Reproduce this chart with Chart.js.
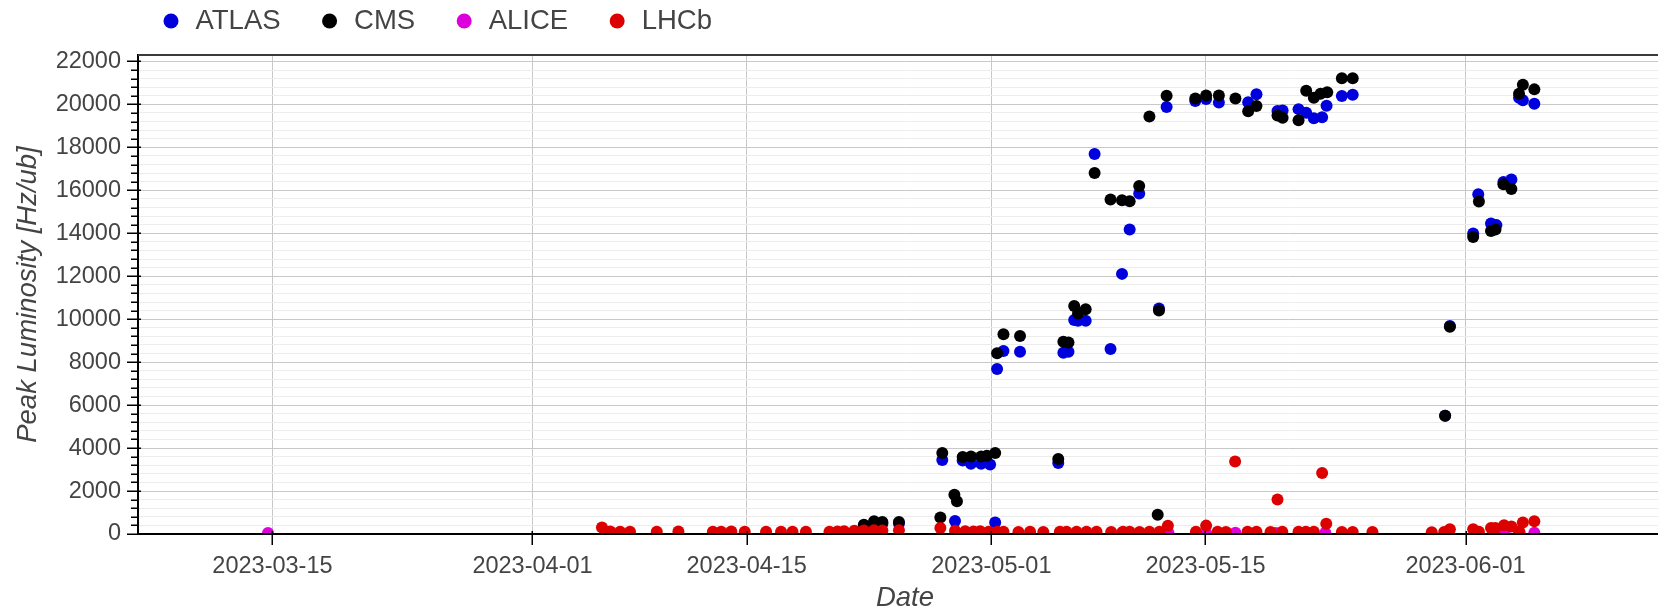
<!DOCTYPE html>
<html>
<head>
<meta charset="utf-8">
<title>Peak Luminosity</title>
<script src="https://cdn.jsdelivr.net/npm/chart.js@4/dist/chart.umd.min.js"></script>
<style>
  html, body { margin: 0; padding: 0; background: #fff; overflow: hidden; }
  #wrap { width: 1678px; height: 609px; }
</style>
</head>
<body>
<div id="wrap"><canvas id="lumiChart"></canvas></div>
<script>
// Peak luminosity per fill, by experiment (times in UTC)
const atlasTimes = [
    '2023-04-22 16:00', '2023-04-23 08:00', '2023-04-23 21:00', '2023-04-24 23:00',
    '2023-04-27 19:00', '2023-04-28 15:00', '2023-04-29 03:00', '2023-04-29 16:00',
    '2023-04-30 08:00', '2023-04-30 22:00', '2023-05-01 06:00', '2023-05-01 09:00',
    '2023-05-01 19:00', '2023-05-02 21:00', '2023-05-05 09:00', '2023-05-05 17:00',
    '2023-05-06 01:00', '2023-05-06 10:00', '2023-05-06 16:00', '2023-05-07 04:00',
    '2023-05-07 18:00', '2023-05-08 19:00', '2023-05-09 13:00', '2023-05-10 01:00',
    '2023-05-10 16:00', '2023-05-11 23:00', '2023-05-12 11:00', '2023-05-14 08:00',
    '2023-05-15 01:00', '2023-05-15 21:00', '2023-05-17 19:00', '2023-05-18 08:00',
    '2023-05-19 17:00', '2023-05-20 01:00', '2023-05-21 02:00', '2023-05-21 14:00',
    '2023-05-22 02:00', '2023-05-22 15:00', '2023-05-22 22:00', '2023-05-23 22:00',
    '2023-05-24 15:00', '2023-05-30 16:00', '2023-05-30 23:30', '2023-06-01 12:00',
    '2023-06-01 20:00', '2023-06-02 16:00', '2023-06-03 00:30', '2023-06-03 11:30',
    '2023-06-04 00:00', '2023-06-04 12:00', '2023-06-04 18:00', '2023-06-05 12:00',
];
const atlasPeak = [
    380, 500, 480, 490,
    3450, 600, 3420, 3270,
    3270, 3240, 540, 7680,
    8520, 8490, 3300, 8440,
    8490, 9960, 9930, 9930,
    17690, 8610, 12110, 14180,
    15850, 10500, 19880, 20160,
    20250, 20090, 20100, 20470,
    19690, 19720, 19780, 19610,
    19350, 19400, 19940, 20390,
    20450, 5500, 9680, 13990,
    15820, 14450, 14380, 16390,
    16500, 20310, 20190, 20030,
];

const cmsTimes = [
    '2023-04-22 16:00', '2023-04-23 08:00', '2023-04-23 21:00', '2023-04-24 23:00',
    '2023-04-27 16:00', '2023-04-27 19:00', '2023-04-28 14:00', '2023-04-28 18:00',
    '2023-04-29 03:00', '2023-04-29 16:00', '2023-04-30 08:00', '2023-04-30 17:00',
    '2023-05-01 06:00', '2023-05-01 09:00', '2023-05-01 19:00', '2023-05-02 21:00',
    '2023-05-05 09:00', '2023-05-05 17:00', '2023-05-06 01:00', '2023-05-06 10:00',
    '2023-05-06 16:00', '2023-05-07 04:00', '2023-05-07 18:00', '2023-05-08 19:00',
    '2023-05-09 13:00', '2023-05-10 01:00', '2023-05-10 16:00', '2023-05-11 08:00',
    '2023-05-11 21:00', '2023-05-11 23:00', '2023-05-12 11:00', '2023-05-14 08:00',
    '2023-05-15 01:00', '2023-05-15 21:00', '2023-05-16 23:00', '2023-05-17 19:00',
    '2023-05-18 08:00', '2023-05-19 17:00', '2023-05-20 01:00', '2023-05-21 02:00',
    '2023-05-21 14:00', '2023-05-22 02:00', '2023-05-22 12:30', '2023-05-22 23:00',
    '2023-05-23 22:00', '2023-05-24 15:00', '2023-05-30 16:00', '2023-05-30 23:30',
    '2023-06-01 12:00', '2023-06-01 21:00', '2023-06-02 16:00', '2023-06-02 23:00',
    '2023-06-03 11:30', '2023-06-04 00:00', '2023-06-04 12:00', '2023-06-04 18:00',
    '2023-06-05 12:00',
];
const cmsPeak = [
    430, 590, 560, 560,
    770, 3770, 1830, 1530,
    3580, 3610, 3610, 3640,
    3770, 8410, 9300, 9220,
    3490, 8950, 8910, 10610,
    10270, 10460, 16810, 15570,
    15540, 15490, 16200, 19440,
    900, 10410, 20400, 20280,
    20410, 20420, 20280, 19680,
    19930, 19480, 19380, 19260,
    20640, 20310, 20500, 20570,
    21220, 21220, 5500, 9650,
    13830, 15480, 14110, 14180,
    16280, 16060, 20500, 20920,
    20700,
];

const aliceTimes = [
    '2023-03-14 17:00', '2023-05-09 13:00', '2023-05-12 14:00', '2023-05-15 01:00',
    '2023-05-16 09:00', '2023-05-16 23:00', '2023-05-19 14:00', '2023-05-22 20:00',
    '2023-06-03 13:00', '2023-06-04 13:00', '2023-06-05 12:00',
];
const alicePeak = [50, 60, 50, 40, 60, 60, 50, 60, 50, 60, 60];

const lhcbTimes = [
    '2023-04-05 13:00', '2023-04-06 02:00', '2023-04-06 17:30', '2023-04-07 09:00',
    '2023-04-09 03:00', '2023-04-10 13:00', '2023-04-12 19:00', '2023-04-13 08:00',
    '2023-04-14 00:00', '2023-04-14 21:00', '2023-04-16 06:30', '2023-04-17 06:00',
    '2023-04-18 00:00', '2023-04-18 21:00', '2023-04-20 10:00', '2023-04-20 22:30',
    '2023-04-21 09:00', '2023-04-22 01:00', '2023-04-22 16:00', '2023-04-23 08:00',
    '2023-04-23 21:00', '2023-04-24 23:00', '2023-04-27 16:00', '2023-04-28 15:00',
    '2023-04-29 07:00', '2023-04-29 20:00', '2023-04-30 06:30', '2023-04-30 19:40',
    '2023-05-01 09:00', '2023-05-01 19:00', '2023-05-02 18:30', '2023-05-03 12:45',
    '2023-05-04 09:30', '2023-05-05 11:30', '2023-05-05 22:00', '2023-05-06 13:40',
    '2023-05-07 05:15', '2023-05-07 21:00', '2023-05-08 20:00', '2023-05-09 14:40',
    '2023-05-10 01:00', '2023-05-10 16:30', '2023-05-11 08:00', '2023-05-11 23:45',
    '2023-05-12 13:00', '2023-05-14 09:00', '2023-05-15 01:00', '2023-05-15 19:00',
    '2023-05-16 08:00', '2023-05-16 22:30', '2023-05-17 18:00', '2023-05-18 08:00',
    '2023-05-19 06:00', '2023-05-19 17:00', '2023-05-20 00:30', '2023-05-21 02:00',
    '2023-05-21 13:30', '2023-05-22 02:00', '2023-05-22 15:00', '2023-05-22 21:30',
    '2023-05-23 22:00', '2023-05-24 15:00', '2023-05-25 22:00', '2023-05-29 19:00',
    '2023-05-30 14:30', '2023-05-30 23:30', '2023-06-01 12:00', '2023-06-01 21:00',
    '2023-06-02 16:00', '2023-06-02 23:00', '2023-06-03 12:30', '2023-06-04 00:00',
    '2023-06-04 12:00', '2023-06-04 18:00', '2023-06-05 12:00',
];
const lhcbPeak = [
    300, 120, 110, 100,
    110, 120, 100, 110,
    120, 100, 110, 100,
    110, 100, 110, 120,
    130, 150, 160, 170,
    160, 180, 280, 150,
    130, 120, 130, 110,
    110, 100, 90, 100,
    90, 100, 100, 110,
    100, 100, 90, 100,
    100, 90, 100, 100,
    380, 100, 390, 100,
    90, 3370, 100, 100,
    90, 1610, 100, 100,
    100, 100, 2840, 480,
    90, 90, 90, 80,
    90, 220, 220, 100,
    280, 280, 410, 350,
    130, 540, 590,
];

const xTickDates = ['2023-03-15', '2023-04-01', '2023-04-15', '2023-05-01', '2023-05-15', '2023-06-01'];
const yMajorTicks = [0, 2000, 4000, 6000, 8000, 10000, 12000, 14000, 16000, 18000, 20000, 22000];

const FONT = "'Liberation Sans', Arial, Helvetica, sans-serif";
const TEXT_COLOR = '#444444';

function toMs(s) {
    return Date.parse(s.replace(' ', 'T') + ':00Z');
}

function toPoints(times, values) {
    return times.map((t, i) => ({ x: toMs(t), y: values[i] }));
}

// major ticks every 2000, four minor ticks in between
const yMinorStep = (yMajorTicks[1] - yMajorTicks[0]) / 5;
const yAllTicks = [];
for (let v = yMajorTicks[0]; v <= yMajorTicks[yMajorTicks.length - 1]; v += yMinorStep) {
    yAllTicks.push(v);
}
const isMajor = v => yMajorTicks.includes(v);

// legend drawn across the top, left aligned
const topLegend = {
    id: 'topLegend',
    afterDraw(chart, args, opts) {
        const { ctx } = chart;
        ctx.save();
        ctx.font = `${opts.fontSize}px ${FONT}`;
        ctx.textBaseline = 'middle';
        let x = opts.x;
        chart.data.datasets.forEach(ds => {
            ctx.fillStyle = ds.backgroundColor;
            ctx.beginPath();
            ctx.arc(x, opts.y, opts.radius, 0, Math.PI * 2);
            ctx.fill();
            ctx.fillStyle = TEXT_COLOR;
            ctx.fillText(ds.label, x + opts.gap, opts.y);
            x += opts.gap + ctx.measureText(ds.label).width + opts.spacing;
        });
        ctx.restore();
    },
};

// outward tick marks on both axes plus the frame's top edge
const axisTicks = {
    id: 'axisTicks',
    afterDraw(chart) {
        const { ctx, chartArea, scales } = chart;
        const { x, y } = scales;
        ctx.save();
        ctx.strokeStyle = '#000';
        ctx.lineWidth = 1.5;
        ctx.beginPath();
        y.ticks.forEach(t => {
            const py = Math.round(y.getPixelForValue(t.value)) + 0.25;
            const major = isMajor(t.value);
            ctx.moveTo(chartArea.left - (major ? 11 : 7), py);
            ctx.lineTo(chartArea.left + (major ? 3 : 0), py);
        });
        x.ticks.forEach(t => {
            const px = Math.round(x.getPixelForValue(t.value)) + 0.25;
            ctx.moveTo(px, chartArea.bottom - 3);
            ctx.lineTo(px, chartArea.bottom + 11);
        });
        ctx.stroke();

        ctx.strokeStyle = '#3a3a3a';
        ctx.lineWidth = 2;
        ctx.beginPath();
        ctx.moveTo(chartArea.left, chartArea.top);
        ctx.lineTo(chartArea.right, chartArea.top);
        ctx.stroke();
        ctx.restore();
    },
};

Chart.defaults.font.family = FONT;
Chart.defaults.color = TEXT_COLOR;

const series = [
    { label: 'ATLAS', color: '#0000dd', points: toPoints(atlasTimes, atlasPeak), order: 3 },
    { label: 'CMS', color: '#000000', points: toPoints(cmsTimes, cmsPeak), order: 2 },
    { label: 'ALICE', color: '#dd00dd', points: toPoints(aliceTimes, alicePeak), order: 1 },
    { label: 'LHCb', color: '#dd0000', points: toPoints(lhcbTimes, lhcbPeak), order: 0 },
];

new Chart(document.getElementById('lumiChart'), {
    type: 'scatter',
    data: {
        datasets: series.map(s => ({
            label: s.label,
            data: s.points,
            order: s.order,
            backgroundColor: s.color,
            borderColor: s.color,
            borderWidth: 0,
            pointRadius: 6,
            pointHoverRadius: 6,
            clip: 0,
        })),
    },
    plugins: [topLegend, axisTicks],
    options: {
        responsive: true,
        maintainAspectRatio: false,
        animation: false,
        events: [],
        layout: { padding: { top: 55, right: 0, bottom: 0, left: 0 } },
        plugins: {
            legend: { display: false },
            tooltip: { enabled: false },
            topLegend: { x: 171, y: 21, radius: 7.5, gap: 24.5, spacing: 49, fontSize: 27.5 },
        },
        scales: {
            x: {
                type: 'linear',
                min: toMs('2023-03-06 05:00'),
                max: toMs('2023-06-14 12:00'),
                afterBuildTicks: scale => {
                    scale.ticks = xTickDates.map(d => ({ value: toMs(d + ' 00:00') }));
                },
                afterFit: scale => { scale.height = 75; },
                ticks: {
                    autoSkip: false,
                    maxRotation: 0,
                    padding: 18,
                    color: TEXT_COLOR,
                    font: { size: 23.5 },
                    callback: value => new Date(value).toISOString().slice(0, 10),
                },
                grid: { color: '#c8c8c8', lineWidth: 1, drawTicks: false },
                border: { display: true, color: '#000', width: 2, z: 1 },
                title: {
                    display: true,
                    text: 'Date',
                    color: TEXT_COLOR,
                    font: { size: 27.5, style: 'italic', lineHeight: 0.78 },
                    padding: { top: 0, bottom: 0 },
                },
            },
            y: {
                type: 'linear',
                min: 0,
                max: 22300,
                afterBuildTicks: scale => {
                    scale.ticks = yAllTicks.map(v => ({ value: v }));
                },
                afterFit: scale => { scale.width = 138; },
                ticks: {
                    autoSkip: false,
                    padding: 17,
                    color: TEXT_COLOR,
                    font: { size: 23.5 },
                    callback: value => (isMajor(value) ? String(value) : ''),
                },
                grid: {
                    drawTicks: false,
                    lineWidth: 1,
                    color: ctx => (ctx.tick && isMajor(ctx.tick.value) ? '#c8c8c8' : '#ececec'),
                },
                border: { display: true, color: '#000', width: 2, z: 1 },
                title: {
                    display: true,
                    text: 'Peak Luminosity [Hz/ub]',
                    color: TEXT_COLOR,
                    font: { size: 27.5, style: 'italic', lineHeight: 1.2 },
                    padding: { top: 12, bottom: 0 },
                },
            },
        },
    },
});
</script>
</body>
</html>
